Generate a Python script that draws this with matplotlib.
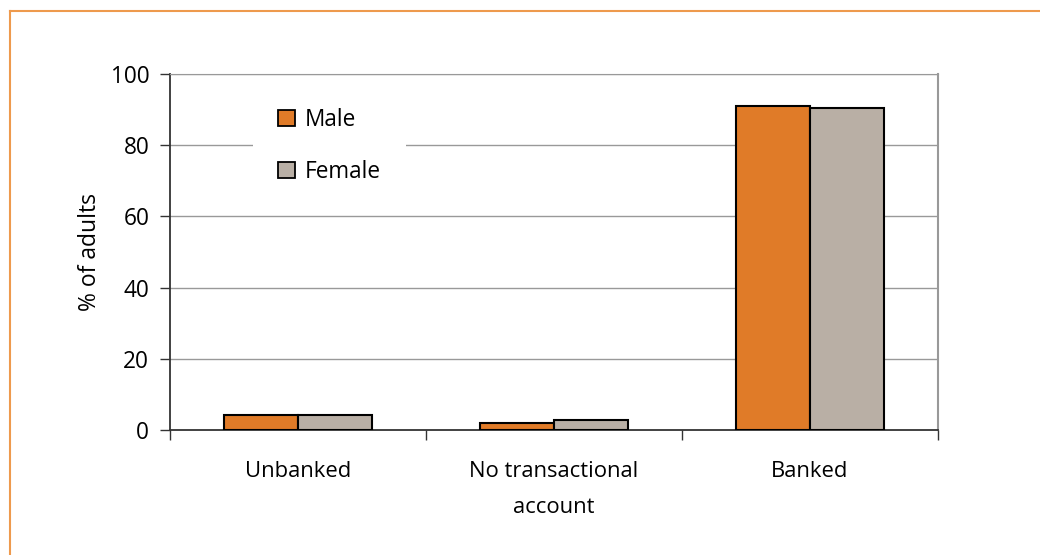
import matplotlib
matplotlib.use("Agg")
import matplotlib.pyplot as plt
import numpy as np
from matplotlib.patches import Patch
from matplotlib.lines import Line2D

categories = ["Unbanked", "No transactional\naccount", "Banked"]
series_names = ["Male", "Female"]
male = [4.2, 2.0, 91.0]
female = [4.2, 2.7, 90.4]
y_ticks = [0, 20, 40, 60, 80, 100]

colors = ["#E07B28", "#B9AFA5"]

plt.rcParams['font.family'] = ['Open Sans', 'DejaVu Sans']

fig = plt.figure(figsize=(10.4, 5.55), dpi=100)
L, R, B, T = 170, 938, 430, 74
ax = fig.add_axes([L/1040, 1-B/555, (R-L)/1040, (B-T)/555])

x = np.arange(len(categories))
w = 0.289
ax.bar(x - w/2, male, w, color=colors[0], edgecolor="black", linewidth=1.5, zorder=3)
ax.bar(x + w/2, female, w, color=colors[1], edgecolor="black", linewidth=1.5, zorder=3)

ax.set_xlim(-0.5, len(categories) - 0.5)
ax.set_ylim(0, 100)
ax.set_yticks(y_ticks)
ax.set_yticklabels([str(v) for v in y_ticks], fontsize=16.3)
ax.set_xticks(x)
ax.set_xticklabels(categories, fontsize=15.8, linespacing=1.95)
ax.tick_params(axis='x', length=0, pad=22)
ax.set_xticks(np.arange(len(categories) + 1) - 0.5, minor=True)
ax.tick_params(axis='x', which='minor', length=7, width=1, direction='out', color='#333333')
ax.tick_params(axis='y', length=7, width=1, direction='out', color='#333333', pad=8)

for v in y_ticks[1:]:
    ax.axhline(v, color="#999999", linewidth=1, zorder=1)

ax.spines['left'].set_color('#333333')
ax.spines['bottom'].set_color('#333333')
ax.spines['left'].set_linewidth(1.3)
ax.spines['bottom'].set_linewidth(1.3)
ax.spines['right'].set_color('#999999')
ax.spines['top'].set_color('#999999')
ax.spines['right'].set_linewidth(1.5)

ax.set_ylabel("% of adults", fontsize=16.5, labelpad=6)

handles = [Patch(facecolor=colors[0], edgecolor="black", linewidth=1.3),
           Patch(facecolor=colors[1], edgecolor="black", linewidth=1.3)]
leg = ax.legend(handles, series_names, loc="upper left", bbox_to_anchor=((253-L)/(R-L), 0.975),
                fontsize=16.3, frameon=True, handlelength=0.75, handleheight=0.75,
                handletextpad=0.45, labelspacing=1.25, borderpad=1.1, borderaxespad=0,
                fancybox=False)
leg.get_frame().set_facecolor("white")
leg.get_frame().set_edgecolor("none")
leg.get_frame().set_alpha(1)
leg.set_zorder(5)

# outer orange frame (top and left)
oc = "#EE9A4D"
fig.add_artist(Line2D([10/1040, 10/1040], [0, 1-11/555], color=oc, linewidth=1.5, transform=fig.transFigure))
fig.add_artist(Line2D([10/1040, 1], [1-11/555, 1-11/555], color=oc, linewidth=1.5, transform=fig.transFigure))

fig.savefig("out.png", dpi=100)
